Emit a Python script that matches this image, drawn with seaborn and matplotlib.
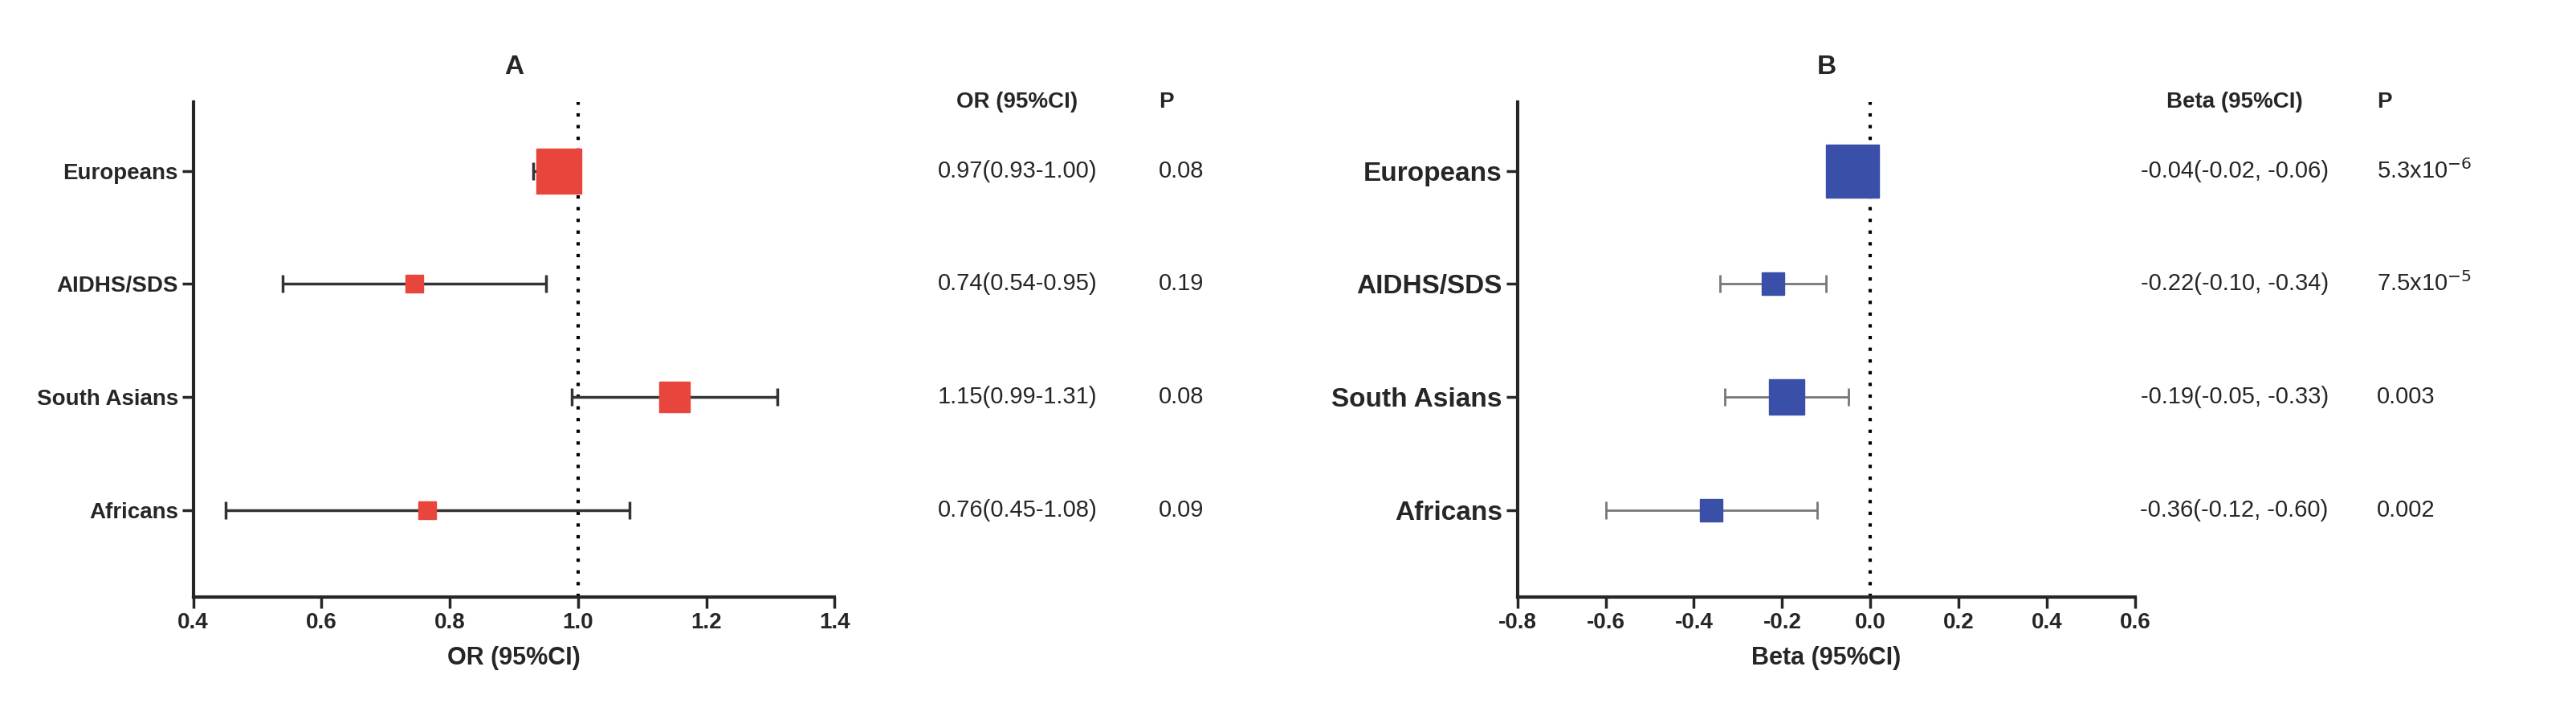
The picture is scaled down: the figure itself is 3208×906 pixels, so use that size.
import matplotlib
matplotlib.use("Agg")
import matplotlib.pyplot as plt
import seaborn as sns
import pandas as pd

sns.set_theme(style="ticks")
plt.rcParams['font.family'] = ['Liberation Sans', 'DejaVu Sans']

groups = ["Europeans", "AIDHS/SDS", "South Asians", "Africans"]
or_est = [0.97, 0.745, 1.15, 0.765]
or_lo = [0.93, 0.54, 0.99, 0.45]
or_hi = [1.00, 0.95, 1.31, 1.08]
or_size = [20, 8, 14, 8]
or_txt = ["0.97(0.93-1.00)", "0.74(0.54-0.95)", "1.15(0.99-1.31)", "0.76(0.45-1.08)"]
or_p = ["0.08", "0.19", "0.08", "0.09"]

b_est = [-0.04, -0.22, -0.19, -0.36]
b_lo = [-0.06, -0.34, -0.33, -0.60]
b_hi = [-0.02, -0.10, -0.05, -0.12]
b_size = [24, 10, 16, 10]
b_txt = ["-0.04(-0.02, -0.06)", "-0.22(-0.10, -0.34)", "-0.19(-0.05, -0.33)", "-0.36(-0.12, -0.60)"]
b_p = [r"5.3x10$^{-6}$", r"7.5x10$^{-5}$", "0.003", "0.002"]

ypos = [4, 3, 2, 1]

fig = plt.figure(figsize=(32.08, 9.06), dpi=100)
axA = fig.add_axes([0.075, 0.18, 0.249, 0.68])
axB = fig.add_axes([0.589, 0.18, 0.240, 0.68])

def panel(ax, est, lo, hi, sizes, color, ref, xlim, xticks, xlabel, title, txt, ps, hdr, tx, px, lw):
    df = pd.DataFrame({"g": groups, "est": est, "lo": lo, "hi": hi, "y": ypos, "s": sizes})
    for _, r in df.iterrows():
        ax.errorbar(r.est, r.y, xerr=[[r.est - r.lo], [r.hi - r.est]], fmt="none",
                    ecolor="#333333" if color.startswith("#e") else "#777777",
                    elinewidth=lw, capsize=8, capthick=lw, zorder=2)
        ax.plot(r.est, r.y, marker="s", ms=r.s * 2, color=color, ls="none", zorder=3)
    ax.axvline(ref, color="black", ls=(0, (1, 2.5)), lw=3, zorder=1)
    ax.set_xlim(*xlim)
    ax.set_ylim(0.23, 4.61)
    ax.set_xticks(xticks)
    ax.set_xticklabels([f"{t:.1f}" for t in xticks], fontsize=20, fontweight="bold")
    ax.set_yticks(ypos)
    ax.set_yticklabels(groups, fontsize=20 if color.startswith("#e") else 24, fontweight="bold")
    ax.set_xlabel(xlabel, fontsize=22, fontweight="bold", labelpad=12)
    ax.set_title(title, fontsize=24, fontweight="bold", pad=25)
    ax.tick_params(length=10, width=2.5, direction="out")
    for s in ["left", "bottom"]:
        ax.spines[s].set_linewidth(3)
    for s in ["top", "right"]:
        ax.spines[s].set_visible(False)
    trans = ax.get_yaxis_transform()
    ax.text(tx, 1.0, hdr, transform=ax.transAxes, fontsize=20, fontweight="bold", ha="center", va="center", clip_on=False)
    ax.text(px, 1.0, "P", transform=ax.transAxes, fontsize=20, fontweight="bold", ha="left", va="center", clip_on=False)
    for y, t, p in zip(ypos, txt, ps):
        ax.text(tx, y, t, transform=trans, fontsize=21, ha="center", va="center", clip_on=False)
        ax.text(px, y, p, transform=trans, fontsize=21, ha="left", va="center", clip_on=False)

panel(axA, or_est, or_lo, or_hi, or_size, "#e8453c", 1.0, (0.4, 1.4),
      [0.4, 0.6, 0.8, 1.0, 1.2, 1.4], "OR (95%CI)", "A", or_txt, or_p,
      "OR (95%CI)", 1.285, 1.505, 2.5)
panel(axB, b_est, b_lo, b_hi, b_size, "#3a4fa8", 0.0, (-0.8, 0.6),
      [-0.8, -0.6, -0.4, -0.2, 0.0, 0.2, 0.4, 0.6], "Beta (95%CI)", "B", b_txt, b_p,
      "Beta (95%CI)", 1.16, 1.39, 2)

fig.savefig("out.png", dpi=100)
